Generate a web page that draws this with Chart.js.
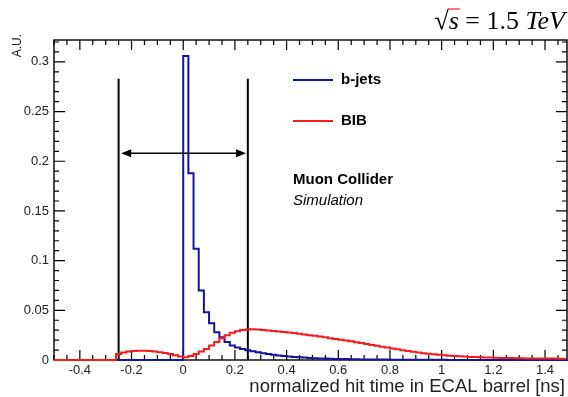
<!DOCTYPE html>
<html>
<head>
<meta charset="utf-8">
<script src="https://cdn.jsdelivr.net/npm/chart.js@4.4.1/dist/chart.umd.min.js"></script>
<style>
  html, body { margin: 0; padding: 0; background: #fff; overflow: hidden; }
  canvas { display: block; }
</style>
</head>
<body>
<canvas id="chartHitTime" width="568" height="397"></canvas>
<script>
// --- données (histogrammes, pas de 0.02 ns) ---
const binWidth = 0.02;
const xMin = -0.5;
const xMax = 1.485;
const yMax = 0.322;

// b-jets : premier bin à t = 0
const bjetsStart = 0.0;
const bjets = [
  0.306, 0.188, 0.112, 0.070, 0.048, 0.037, 0.028, 0.023, 0.018, 0.0145,
  0.0125, 0.0110, 0.0098, 0.0088, 0.0078, 0.0068, 0.0060, 0.0052, 0.0045, 0.0040,
  0.0035, 0.0031, 0.0027, 0.0024, 0.0021, 0.0018, 0.0016, 0.0014, 0.0012, 0.0011,
  0.0010, 0.0009, 0.0008, 0.0007, 0.0006, 0.0006, 0.0005, 0.0005, 0.0004, 0.0004,
  0.0003, 0.0003, 0.0003, 0.0003, 0.0002, 0.0002, 0.0002, 0.0002, 0.0002, 0.0002,
  0.0002, 0.0001, 0.0001, 0.0001, 0.0001, 0.0001, 0.0001, 0.0001, 0.0001, 0.0001,
  0.0001, 0.0001, 0.0001, 0.0001, 0.0001, 0.0001, 0.0001, 0.0001, 0.0001, 0.0001,
  0.0001, 0.0001, 0.0001, 0.0001, 0.0001
];

// BIB : premier bin à t = -0.26
const bibStart = -0.26;
const bib = [
  0.0060, 0.0075, 0.0085, 0.0090, 0.0092, 0.0092, 0.0090, 0.0085, 0.0078, 0.0070,
  0.0060, 0.0048, 0.0035,
  0.0028, 0.0040, 0.0060, 0.0085, 0.0110, 0.0145, 0.0180, 0.0220, 0.0250, 0.0275,
  0.0290, 0.0302, 0.0308, 0.0310, 0.0308, 0.0303, 0.0298, 0.0293, 0.0288, 0.0283,
  0.0277, 0.0271, 0.0264, 0.0257, 0.0250, 0.0243, 0.0236, 0.0228, 0.0220, 0.0212,
  0.0204, 0.0196, 0.0188, 0.0179, 0.0170, 0.0161, 0.0152, 0.0143, 0.0134, 0.0125,
  0.0116, 0.0107, 0.0099, 0.0091, 0.0083, 0.0076, 0.0069, 0.0063, 0.0057, 0.0052,
  0.0047, 0.0043, 0.0040, 0.0037, 0.0034, 0.0031, 0.0029, 0.0027, 0.0025, 0.0024,
  0.0022, 0.0021, 0.0020, 0.0019, 0.0018, 0.0017, 0.0016, 0.0016, 0.0015, 0.0015,
  0.0014, 0.0014, 0.0013, 0.0013
];

// fenêtre en temps (lignes noires) et flèche
const windowEdges = [-0.25, 0.25];
const windowTop = 0.283;
const arrowY = 0.208;
const arrowEnds = [-0.24, 0.243];

// graduations
const xTicks = [-0.4, -0.2, 0, 0.2, 0.4, 0.6, 0.8, 1, 1.2, 1.4];
const yTicks = [0, 0.05, 0.1, 0.15, 0.2, 0.25, 0.3];
const xTickLabels = ['-0.4', '-0.2', '0', '0.2', '0.4', '0.6', '0.8', '1', '1.2', '1.4'];
const yTickLabels = ['0', '0.05', '0.1', '0.15', '0.2', '0.25', '0.3'];

const colBjets = '#14149a';
const colBib = '#f41c1c';
const sansFont = '"Liberation Sans", Arial, sans-serif';

/**
 * Construire le contour d'un histogramme (points pour un tracé en escalier)
 */
function contourHisto(start, valeurs) {
    const pts = [{ x: xMin, y: 0 }];
    valeurs.forEach((v, i) => pts.push({ x: start + i * binWidth, y: v }));
    pts.push({ x: start + valeurs.length * binWidth, y: valeurs[valeurs.length - 1] });
    return pts;
}

// Cadre et graduations style ROOT (vers l'intérieur), sous les histogrammes
const cadreRoot = {
    id: 'cadreRoot',
    beforeDatasetsDraw(chart) {
        const ctx = chart.ctx;
        const { left, right, top, bottom } = chart.chartArea;
        const sx = chart.scales.x;
        const sy = chart.scales.y;

        ctx.save();
        ctx.strokeStyle = '#000';
        ctx.lineWidth = 1.4;
        ctx.strokeRect(left, top, right - left, bottom - top);

        // graduations x (mineures tous les 0.05)
        ctx.lineWidth = 1.2;
        ctx.beginPath();
        for (let k = -10; k <= 30; k++) {
            const v = k * 0.05;
            if (v < xMin - 1e-9 || v > xMax) continue;
            const px = sx.getPixelForValue(v);
            const major = Math.abs(v / 0.2 - Math.round(v / 0.2)) < 1e-6;
            const len = major ? 10 : 5;
            ctx.moveTo(px, bottom); ctx.lineTo(px, bottom - len);
            ctx.moveTo(px, top); ctx.lineTo(px, top + len);
        }
        // graduations y (mineures tous les 0.01)
        for (let k = 0; k <= 32; k++) {
            const v = k * 0.01;
            if (v > yMax) continue;
            const py = sy.getPixelForValue(v);
            const major = k % 5 === 0;
            const len = major ? 11 : 5;
            ctx.moveTo(left, py); ctx.lineTo(left + len, py);
            ctx.moveTo(right, py); ctx.lineTo(right - len, py);
        }
        ctx.stroke();
        ctx.restore();
    }
};

// Flèche, légende et textes
const textesRoot = {
    id: 'textesRoot',
    afterDatasetsDraw(chart) {
        const ctx = chart.ctx;
        const sx = chart.scales.x;
        const sy = chart.scales.y;

        ctx.save();
        // flèche double
        const ay = sy.getPixelForValue(arrowY);
        const ax1 = sx.getPixelForValue(arrowEnds[0]);
        const ax2 = sx.getPixelForValue(arrowEnds[1]);
        ctx.strokeStyle = '#000';
        ctx.lineWidth = 1.6;
        ctx.beginPath();
        ctx.moveTo(ax1 + 4, ay); ctx.lineTo(ax2 - 4, ay);
        ctx.stroke();
        ctx.fillStyle = '#000';
        ctx.beginPath();
        ctx.moveTo(ax1, ay); ctx.lineTo(ax1 + 10, ay - 4); ctx.lineTo(ax1 + 10, ay + 4); ctx.closePath();
        ctx.moveTo(ax2, ay); ctx.lineTo(ax2 - 10, ay - 4); ctx.lineTo(ax2 - 10, ay + 4); ctx.closePath();
        ctx.fill();

        // légende
        ctx.lineWidth = 2;
        ctx.strokeStyle = colBjets;
        ctx.beginPath(); ctx.moveTo(293, 80); ctx.lineTo(333, 80); ctx.stroke();
        ctx.strokeStyle = colBib;
        ctx.beginPath(); ctx.moveTo(293, 121); ctx.lineTo(333, 121); ctx.stroke();
        ctx.fillStyle = '#000';
        ctx.textBaseline = 'middle';
        ctx.textAlign = 'left';
        ctx.font = 'bold 15px ' + sansFont;
        ctx.fillText('b-jets', 341, 80);
        ctx.fillText('BIB', 341, 121);
        ctx.fillText('Muon Collider', 293, 180);
        ctx.font = 'italic 15px ' + sansFont;
        ctx.fillText('Simulation', 293, 201);

        // titre axe x
        ctx.fillStyle = '#222';
        ctx.font = '18.5px ' + sansFont;
        ctx.textAlign = 'right';
        ctx.textBaseline = 'alphabetic';
        ctx.fillText('normalized hit time in ECAL barrel [ns]', 565, 392);

        // titre axe y
        ctx.save();
        ctx.translate(18, 34);
        ctx.rotate(-Math.PI / 2);
        ctx.font = '12px ' + sansFont;
        ctx.textAlign = 'right';
        ctx.textBaseline = 'middle';
        ctx.fillText('A.U.', 0, 0);
        ctx.restore();

        // sqrt(s) = 1.5 TeV
        const serif = '"Liberation Serif", "DejaVu Serif", serif';
        const fUp = '26px ' + serif;
        const fIt = 'italic 26px ' + serif;
        const parts = [
            { t: '\u221A', f: fUp },
            { t: 's', f: fIt, bar: true },
            { t: ' = 1.5 ', f: fUp },
            { t: 'TeV', f: fIt }
        ];
        let total = 0;
        parts.forEach(p => { ctx.font = p.f; p.w = ctx.measureText(p.t).width; total += p.w; });
        let x = 565 - total;
        const base = 29;
        ctx.fillStyle = '#000';
        ctx.textAlign = 'left';
        parts.forEach(p => {
            ctx.font = p.f;
            ctx.fillText(p.t, x, base);
            if (p.bar) {
                ctx.lineWidth = 1.2;
                ctx.beginPath();
                ctx.moveTo(x - 1, base - 20); ctx.lineTo(x + p.w + 1, base - 20);
                ctx.stroke();
            }
            x += p.w;
        });
        ctx.restore();
    }
};

const canvas = document.getElementById('chartHitTime');
const ctx = canvas.getContext('2d');

const chartHitTime = new Chart(ctx, {
    type: 'line',
    data: {
        datasets: [
            {
                label: 'BIB',
                data: contourHisto(bibStart, bib),
                borderColor: colBib,
                borderWidth: 2,
                stepped: 'before',
                pointRadius: 0,
                fill: false,
                clip: 2,
                order: 0
            },
            {
                label: 'b-jets',
                data: contourHisto(bjetsStart, bjets),
                borderColor: colBjets,
                borderWidth: 2,
                stepped: 'before',
                pointRadius: 0,
                fill: false,
                clip: 2,
                order: 1
            },
            {
                label: 'fenetre bas',
                data: [{ x: windowEdges[0], y: 0 }, { x: windowEdges[0], y: windowTop }],
                borderColor: '#000',
                borderWidth: 2,
                pointRadius: 0,
                order: 2
            },
            {
                label: 'fenetre haut',
                data: [{ x: windowEdges[1], y: 0 }, { x: windowEdges[1], y: windowTop }],
                borderColor: '#000',
                borderWidth: 2,
                pointRadius: 0,
                order: 2
            }
        ]
    },
    options: {
        responsive: false,
        animation: false,
        devicePixelRatio: 1,
        layout: { padding: { top: 40, right: 1, left: 0, bottom: 0 } },
        plugins: {
            legend: { display: false },
            tooltip: { enabled: false }
        },
        scales: {
            x: {
                type: 'linear',
                min: xMin,
                max: xMax,
                afterBuildTicks: s => { s.ticks = xTicks.map(v => ({ value: v })); },
                afterFit: s => { s.height = 37; },
                grid: { display: false, drawTicks: false },
                border: { display: false },
                ticks: {
                    autoSkip: false,
                    maxRotation: 0,
                    padding: 3,
                    color: '#222',
                    font: { family: sansFont, size: 13 },
                    callback: v => xTickLabels[xTicks.findIndex(t => Math.abs(t - v) < 1e-9)]
                }
            },
            y: {
                type: 'linear',
                min: 0,
                max: yMax,
                afterBuildTicks: s => { s.ticks = yTicks.map(v => ({ value: v })); },
                afterFit: s => { s.width = 54; },
                grid: { display: false, drawTicks: false },
                border: { display: false },
                ticks: {
                    autoSkip: false,
                    padding: 5,
                    color: '#222',
                    font: { family: sansFont, size: 13 },
                    callback: v => yTickLabels[yTicks.findIndex(t => Math.abs(t - v) < 1e-9)]
                }
            }
        }
    },
    plugins: [cadreRoot, textesRoot]
});
</script>
</body>
</html>
